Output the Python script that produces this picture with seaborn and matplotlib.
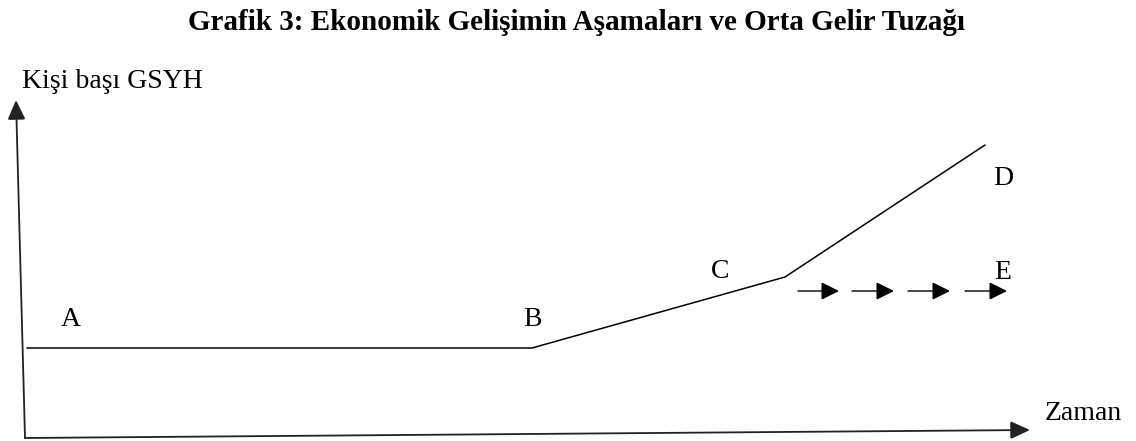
import matplotlib
matplotlib.use("Agg")
import matplotlib.pyplot as plt
import seaborn as sns
import pandas as pd
from matplotlib.patches import FancyArrowPatch

# ---- data (in drawing units of the diagram) ----
title = "Grafik 3: Ekonomik Gelişimin Aşamaları ve Orta Gelir Tuzağı"
y_label = "Kişi başı GSYH"
x_label = "Zaman"

path_time = [27, 532, 785, 985]      # A-B plateau, B-C slow rise, C-D fast rise
path_gdp = [348, 348, 277, 145]

point_labels = ["A", "B", "C", "D", "E"]
label_time = [71, 532, 720, 1003, 1003]
label_gdp = [326, 326, 278, 185, 279]

trap_starts = [798, 852, 908, 965]   # middle-income trap arrows (C -> E)
trap_ends = [839, 894, 950, 1007]
trap_level = [291, 291, 291, 291]

origin = (25, 438)
y_axis_tip = (16, 100)
x_axis_tip = (1030, 430)

# ---- figure ----
sns.set_theme(style="white")
plt.rcParams["font.family"] = ["Liberation Serif", "DejaVu Serif"]

fig = plt.figure(figsize=(11.36, 4.41), dpi=100)
ax = fig.add_axes([0, 0, 1, 1])
ax.set_xlim(0, 1136)
ax.set_ylim(441, 0)
ax.axis("off")

df = pd.DataFrame({"time": path_time, "gdp": path_gdp})
sns.lineplot(data=df, x="time", y="gdp", sort=False, color="black",
             linewidth=1.1, ax=ax, legend=False)

def arrow(p0, p1, lw, hl, hw, color="black"):
    a = FancyArrowPatch(p0, p1, arrowstyle=f"-|>,head_length={hl},head_width={hw}",
                        mutation_scale=1, shrinkA=0, shrinkB=0,
                        color=color, linewidth=lw, joinstyle="miter")
    ax.add_patch(a)

# axes arrows
arrow(origin, y_axis_tip, 1.3, 12, 5.5, color="#222222")
arrow(origin, x_axis_tip, 1.3, 12, 5.5, color="#222222")

# trap arrows
for s, e, lv in zip(trap_starts, trap_ends, trap_level):
    arrow((s, lv), (e, lv), 1.0, 11, 5.5)

# labels
for t, x, y in zip(point_labels, label_time, label_gdp):
    ax.text(x, y, t, ha="center", va="baseline", fontsize=20, color="black")

ax.text(22, 88, y_label, ha="left", va="baseline", fontsize=20, color="black")
ax.text(1045, 420, x_label, ha="left", va="baseline", fontsize=20, color="black")

ax.text(576, 30, title, ha="center", va="baseline", fontsize=21,
        fontweight="bold", color="black")

fig.savefig("out.png", dpi=100, facecolor="white")
